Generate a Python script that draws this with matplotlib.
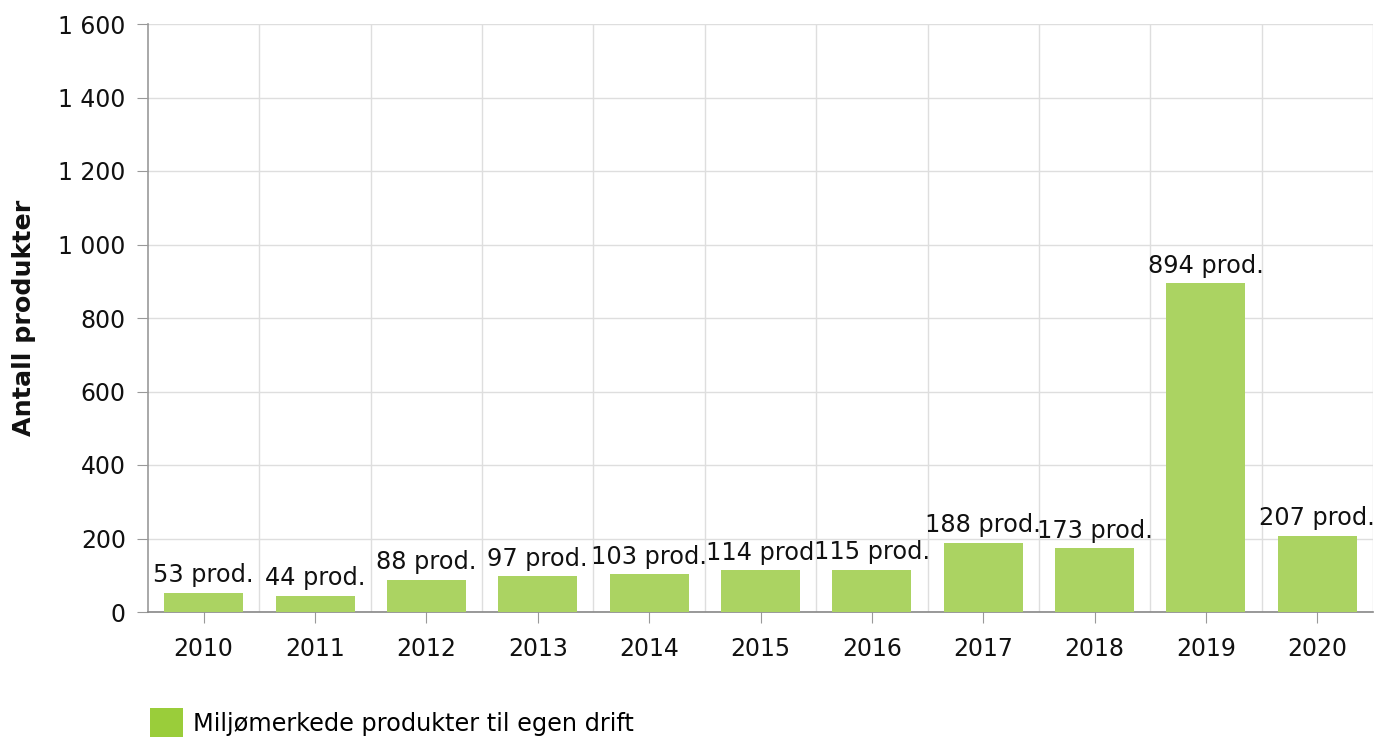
import matplotlib
matplotlib.use("Agg")
import matplotlib.pyplot as plt
from matplotlib.ticker import FuncFormatter, FixedLocator
from matplotlib.patches import Patch

years = ["2010", "2011", "2012", "2013", "2014", "2015", "2016", "2017", "2018", "2019", "2020"]
values = [53, 44, 88, 97, 103, 114, 115, 188, 173, 894, 207]
labels = ["53 prod.", "44 prod.", "88 prod.", "97 prod.", "103 prod.", "114 prod", "115 prod.",
          "188 prod.", "173 prod.", "894 prod.", "207 prod."]
series_name = "Miljømerkede produkter til egen drift"
y_ticks = [0, 200, 400, 600, 800, 1000, 1200, 1400, 1600]

plt.rcParams['font.family'] = ['DejaVu Sans']
FS = 17.3

fig = plt.figure(figsize=(13.76, 7.37), dpi=100)
ax = fig.add_axes([148/1376, 1-612/737, (1373-148)/1376, (612-24)/737])

x = list(range(len(years)))
ax.bar(x, values, width=0.71, color='#abd362', zorder=3)
for xi, v, lab in zip(x, values, labels):
    ax.annotate(lab, (xi, v), xytext=(0, 4), textcoords='offset points',
                ha='center', va='bottom', fontsize=FS, color='#111111', zorder=4)

ax.set_xlim(-0.5, len(years) - 0.5)
ax.set_ylim(0, 1600)
ax.set_yticks(y_ticks)
ax.yaxis.set_major_formatter(FuncFormatter(lambda v, p: f"{int(v):,}".replace(",", " ")))
ax.set_xticks(x)
ax.set_xticklabels(years)
ax.xaxis.set_minor_locator(FixedLocator([i + 0.5 for i in range(len(years))]))

ax.grid(axis='y', which='major', color='#dedede', linewidth=1, zorder=0)
ax.grid(axis='x', which='minor', color='#dedede', linewidth=1, zorder=0)
ax.grid(axis='x', which='major', visible=False)

for s in ['top', 'right']:
    ax.spines[s].set_visible(False)
ax.spines['left'].set_color('#999999')
ax.spines['bottom'].set_color('#888888')
ax.spines['left'].set_linewidth(1.2)
ax.spines['bottom'].set_linewidth(1.2)

ax.tick_params(axis='y', which='major', length=8, color='#999999', labelsize=17, pad=8, labelcolor='#111111')
ax.tick_params(axis='x', which='major', length=8, color='#999999', labelsize=17, pad=10, labelcolor='#111111')
ax.tick_params(axis='x', which='minor', length=0)

ax.set_ylabel("Antall produkter", fontsize=18.3, fontweight='bold', labelpad=16, color='#111111')

handle = Patch(facecolor='#9acd3a', edgecolor='none')
fig.legend([handle], [series_name], loc='lower left', bbox_to_anchor=(128/1376, -22/737),
           frameon=False, fontsize=FS, handlelength=1.4, handleheight=1.5, handletextpad=0.4)

fig.savefig("out.png", dpi=100)
